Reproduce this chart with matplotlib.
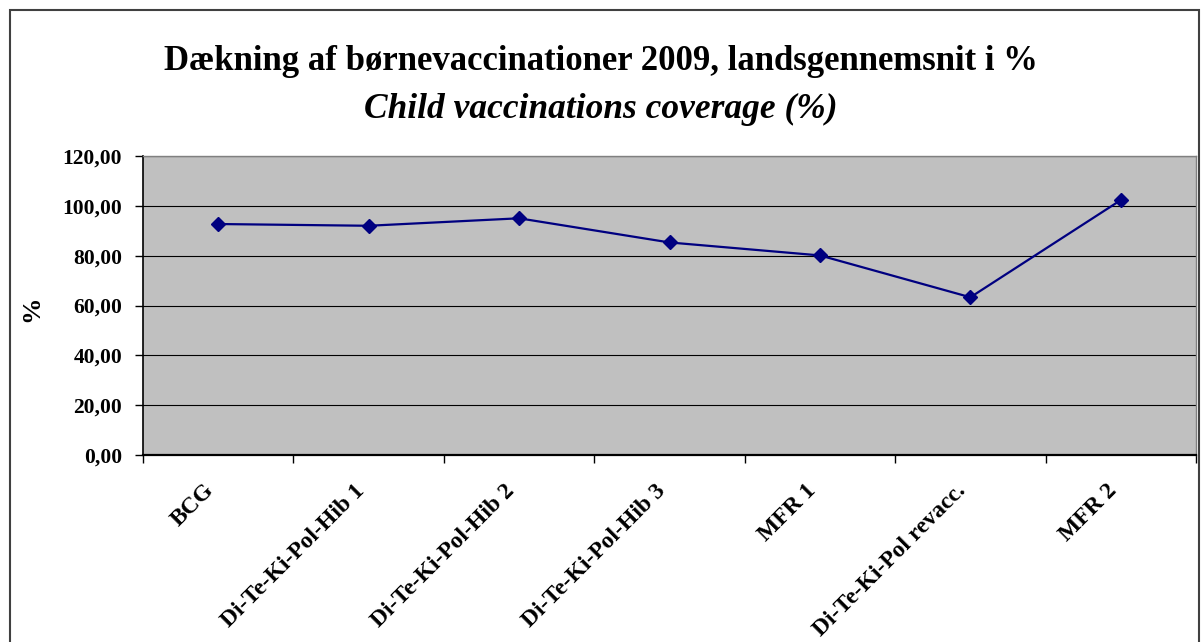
import matplotlib
matplotlib.use("Agg")
import matplotlib.pyplot as plt
from matplotlib.patches import Rectangle
from matplotlib.transforms import blended_transform_factory, ScaledTranslation

categories = ["BCG", "Di-Te-Ki-Pol-Hib 1", "Di-Te-Ki-Pol-Hib 2", "Di-Te-Ki-Pol-Hib 3",
              "MFR 1", "Di-Te-Ki-Pol revacc.", "MFR 2"]
coverage = [92.7, 92.0, 95.0, 85.3, 80.1, 63.3, 102.3]
yticks = [0, 20, 40, 60, 80, 100, 120]
ytick_labels = ["0,00", "20,00", "40,00", "60,00", "80,00", "100,00", "120,00"]

plt.rcParams['font.family'] = ['Liberation Serif', 'DejaVu Serif']

W, H = 1201, 642
fig = plt.figure(figsize=(W / 100, H / 100), dpi=100)
fig.patch.set_facecolor('white')

# outer chart frame
fig.add_artist(Rectangle((10 / W, -0.05), (1199 - 10) / W, 1 - 10 / H + 0.05,
                         transform=fig.transFigure, fill=False,
                         edgecolor='#404040', linewidth=1.5))

left, right, top, bottom = 143, 1196, 156, 455
ax = fig.add_axes([left / W, 1 - bottom / H, (right - left) / W, (bottom - top) / H])
ax.set_facecolor('#C0C0C0')

x = list(range(len(categories)))
ax.plot(x, coverage, color='#000080', linewidth=1.6, marker='D', markersize=7,
        markerfacecolor='#000080', markeredgecolor='#000080', zorder=3)

ax.set_xlim(-0.5, len(categories) - 0.5)
ax.set_ylim(0, 120)
ax.set_yticks(yticks)
ax.set_yticklabels(ytick_labels, fontsize=15.5, fontweight='bold')
ax.yaxis.grid(True, color='black', linewidth=0.8)
ax.set_axisbelow(True)

ax.set_xticks([i - 0.5 for i in range(len(categories) + 1)])
ax.set_xticklabels([])
ax.tick_params(axis='x', which='major', length=6, width=1, color='black')
ax.tick_params(axis='y', length=6, width=1, color='black', pad=9)

# rotated category labels
trans = blended_transform_factory(ax.transData, ax.transAxes) + \
    ScaledTranslation(-15 / 100, -25 / 100, fig.dpi_scale_trans)
for i, lab in enumerate(categories):
    ax.text(i, 0, lab, transform=trans, rotation=45, rotation_mode='anchor',
            ha='right', va='top', fontsize=17, fontweight='bold', clip_on=False)

for s in ['top', 'right']:
    ax.spines[s].set_color('#808080')
    ax.spines[s].set_linewidth(1)
ax.spines['left'].set_color('black')
ax.spines['left'].set_linewidth(1.2)
ax.spines['bottom'].set_color('black')
ax.spines['bottom'].set_linewidth(1.6)

ax.set_ylabel('%', fontsize=19, fontweight='bold')
ax.yaxis.set_label_coords((43 - left) / (right - left), 0.49)

fig.text(0.5, 1 - 61 / H, 'Dækning af børnevaccinationer 2009, landsgennemsnit i %',
         ha='center', va='center', fontsize=25, fontweight='bold')
fig.text(0.5, 1 - 109 / H, 'Child vaccinations coverage (%)',
         ha='center', va='center', fontsize=25.5, fontstyle='italic', fontweight='bold')

fig.savefig('out.png', dpi=100)
